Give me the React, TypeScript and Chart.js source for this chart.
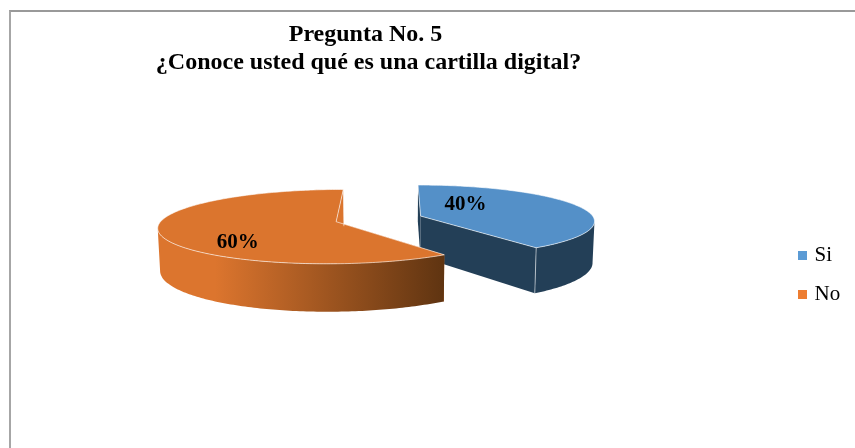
import React, { useEffect, useRef } from "react";
import { Chart, registerables } from "chart.js";

Chart.register(...registerables);

const categories = ["Si", "No"];
const values = [40, 60];
const titleLines = ["Pregunta No. 5 ", "¿Conoce usted qué es una cartilla digital?"];
const legendColors = ["#5B9BD5", "#ED7D31"];
const topColors = ["#5490C8", "#DB752E"];
const faceColors = ["#233F57", "#DB752E"];
const rimStartColors = ["#233F57", "#DC752E"];
const rimEndColors = ["#233F57", "#5F3411"];
const explode = [24, 64];
const labelShift = [[48, -57], [-86, 90]];

const SERIF = "'Liberation Serif', 'Times New Roman', serif";
const PERSPECTIVE = 0.00075;
const SQUASH = 0.205;
const DEPTH = 41;
const RADIUS = 173;
const CY_SHIFT = -56;

function project(arc: any, u: number, v: number, lower = false) {
  const p = 1 / (1 - PERSPECTIVE * v);
  const cx = arc.x;
  const cy = arc.y + CY_SHIFT;
  let x = cx + u * p;
  let y = cy + SQUASH * v * p;
  if (lower) {
    x = cx + (x - cx) * 0.99;
    y += DEPTH * p;
  }
  return { x, y };
}

function apexOf(arc: any) {
  const mid = (arc.startAngle + arc.endAngle) / 2;
  const o = (arc.options.offset || 0) / 4;
  return { u: o * Math.cos(mid), v: o * Math.sin(mid) };
}

function rimPoint(arc: any, a: number) {
  const ap = apexOf(arc);
  return { u: ap.u + arc.outerRadius * Math.cos(a), v: ap.v + arc.outerRadius * Math.sin(a) };
}

function poly(ctx: CanvasRenderingContext2D, pts: { x: number; y: number }[]) {
  ctx.beginPath();
  pts.forEach((q, i) => (i ? ctx.lineTo(q.x, q.y) : ctx.moveTo(q.x, q.y)));
  ctx.closePath();
}

function drawFace(ctx: CanvasRenderingContext2D, arc: any, a: number, color: string) {
  const ap = apexOf(arc);
  const r = rimPoint(arc, a);
  poly(ctx, [project(arc, ap.u, ap.v), project(arc, r.u, r.v), project(arc, r.u, r.v, true), project(arc, ap.u, ap.v, true)]);
  ctx.fillStyle = color;
  ctx.fill();
}

function drawSlice(ctx: CanvasRenderingContext2D, arc: any, i: number) {
  const ap = apexOf(arc);
  const steps = Math.ceil(((arc.endAngle - arc.startAngle) * 180) / Math.PI);
  const angles: number[] = [];
  for (let s = 0; s <= steps; s++) angles.push(arc.startAngle + ((arc.endAngle - arc.startAngle) * s) / steps);

  drawFace(ctx, arc, arc.startAngle, faceColors[i]);
  drawFace(ctx, arc, arc.endAngle, faceColors[i]);

  const rimXs = angles.map((a) => { const r = rimPoint(arc, a); return project(arc, r.u, r.v).x; });
  const iMax = rimXs.indexOf(Math.max(...rimXs));
  const iMin = rimXs.indexOf(Math.min(...rimXs));
  const front = angles.slice(iMax, (iMin > iMax ? iMin : angles.length - 1) + 1);
  const up = front.map((a) => { const r = rimPoint(arc, a); return project(arc, r.u, r.v); });
  const low = front.map((a) => { const r = rimPoint(arc, a); return project(arc, r.u, r.v, true); });
  const xs = up.map((q) => q.x);
  const g = ctx.createLinearGradient(Math.min(...xs), 0, Math.max(...xs), 0);
  g.addColorStop(0, rimStartColors[i]);
  g.addColorStop(0.2, rimStartColors[i]);
  g.addColorStop(1, rimEndColors[i]);
  poly(ctx, [...up, ...low.slice().reverse()]);
  ctx.fillStyle = g;
  ctx.fill();

  const outline = [project(arc, ap.u, ap.v), ...angles.map((a) => { const r = rimPoint(arc, a); return project(arc, r.u, r.v); })];
  poly(ctx, outline);
  ctx.fillStyle = topColors[i];
  ctx.fill();
  ctx.strokeStyle = "rgba(255,255,255,0.6)";
  ctx.lineWidth = 1;
  ctx.stroke();

  const e = rimPoint(arc, arc.endAngle);
  const a1 = project(arc, e.u, e.v);
  const a2 = project(arc, e.u, e.v, true);
  ctx.beginPath();
  ctx.moveTo(a1.x, a1.y);
  ctx.lineTo(a2.x, a2.y);
  ctx.strokeStyle = "rgba(255,255,255,0.55)";
  ctx.stroke();
}

const pie3d = {
  id: "pie3d",
  afterLayout(chart: any) {
    chart.titleBlock.left = 0;
    chart.titleBlock.right = 737;
    chart.legend.left = 783;
    chart.legend.top += 51;
    chart.legend.bottom += 51;
  },
  beforeDatasetDraw(chart: any, args: any) {
    const ctx = chart.ctx as CanvasRenderingContext2D;
    ctx.save();
    args.meta.data.forEach((arc: any, i: number) => drawSlice(ctx, arc, i));
    ctx.restore();
    return false;
  },
  afterDatasetsDraw(chart: any) {
    const ctx = chart.ctx as CanvasRenderingContext2D;
    const total = values.reduce((a, b) => a + b, 0);
    ctx.save();
    ctx.font = `bold 21px ${SERIF}`;
    ctx.fillStyle = "#000";
    ctx.textAlign = "center";
    ctx.textBaseline = "middle";
    chart.getDatasetMeta(0).data.forEach((arc: any, i: number) => {
      const ap = apexOf(arc);
      const q = project(arc, ap.u + labelShift[i][0], ap.v + labelShift[i][1]);
      ctx.fillText(`${Math.round((values[i] / total) * 100)}%`, q.x, q.y);
    });
    ctx.restore();
  },
};

export default function App() {
  const ref = useRef<HTMLCanvasElement>(null);
  useEffect(() => {
    const chart = new Chart(ref.current!, {
      type: "pie",
      data: {
        labels: categories,
        datasets: [{ data: values, backgroundColor: legendColors, borderWidth: 0, offset: explode.map((o) => o * 4) }],
      },
      options: {
        responsive: false,
        animation: false,
        radius: RADIUS,
        layout: { padding: { left: 8 } },
        plugins: {
          tooltip: { enabled: false },
          title: {
            display: true,
            text: titleLines,
            color: "#000",
            font: { family: SERIF, size: 24, weight: "bold", lineHeight: 1.2 },
            padding: { top: 20, bottom: 21.6 },
          },
          legend: {
            position: "right",
            labels: {
              usePointStyle: true,
              pointStyle: "rect",
              boxWidth: 3,
              boxHeight: 9,
              padding: 18,
              color: "#000",
              font: { family: SERIF, size: 21 },
            },
          },
        },
      } as any,
      plugins: [pie3d as any],
    });
    return () => chart.destroy();
  }, []);
  return (
    <div style={{ position: "fixed", left: 0, top: 0, width: 855, height: 448, background: "#fff" }}>
      <div style={{ position: "absolute", left: 9, top: 10, right: 0, bottom: 0, borderLeft: "2px solid #a6a6a6", borderTop: "2px solid #999" }} />
      <canvas ref={ref} width={855} height={448} style={{ position: "absolute", left: 0, top: 0, display: "block" }} />
    </div>
  );
}
